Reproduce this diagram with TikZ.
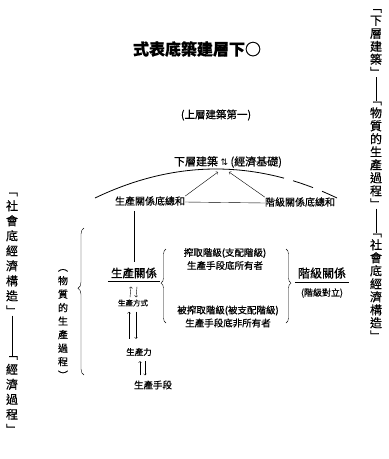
\documentclass[tikz,border=0pt]{standalone}
\usepackage{fontspec}
\newfontfamily\cjk[FakeBold=0.6]{Noto Sans CJK TC}
\newfontfamily\symfont{DejaVu Sans}
\usetikzlibrary{positioning,decorations.pathreplacing}

\begin{document}
\begin{tikzpicture}[x=1pt,y=-1pt,
  declare function={archy(\x)=198-116*((\x-95)/242)*(1-(\x-95)/242);}]
\tikzstyle{word}=[inner sep=0pt,font=\cjk\fontsize{10}{12}\selectfont]
\tikzstyle{lines}=[inner sep=0pt,align=center,font=\cjk\fontsize{9.5}{13}\selectfont]
\tikzstyle{vcol}=[inner sep=0pt,align=center,font=\cjk\fontsize{12}{13}\selectfont]
\tikzstyle{bracefig}=[decorate,decoration={brace,amplitude=5pt}]

\useasboundingbox (0,0) rectangle (389,459);

\begin{scope}
    % Headings
    \node [word,font=\cjk\bfseries\fontsize{16}{18}\selectfont](title) at (197,49){式表底築建層下○};
    \node [word,font=\cjk\fontsize{10.5}{12}\selectfont](upper) at (216,115){(上層建築第一)};
    \node [word,font=\cjk\fontsize{11}{12}\selectfont](base) at (228,162){下層建築 {\symfont\fontsize{9}{10}\selectfont ⇅} (經濟基礎)};

    % Sums of relations
    \node [word](relL) at (150,201){生產關係底總和};
    \node [word](relR) at (300,202){階級關係底總和};

    % Production column
    \node [word,font=\cjk\fontsize{11.5}{12}\selectfont](prodRel) at (134,273){生產關係};
    \node [word,font=\cjk\fontsize{7.5}{9}\selectfont](mode) at (133,303){生產方式};
    \node [word,font=\cjk\fontsize{8.5}{10}\selectfont](force) at (139,352){生產力};
    \node [word,font=\cjk\fontsize{9.5}{11}\selectfont](means) at (153,385){生產手段};

    % Classes
    \node [lines](exA) at (225,259){搾取階級(支配階級)\\生產手段底所有者};
    \node [lines](exB) at (228,316.5){被搾取階級(被支配階級)\\生產手段底非所有者};
    \node [word,font=\cjk\fontsize{12}{13}\selectfont](classRel) at (322,273){階級關係};
    \node [word,font=\cjk\fontsize{9}{10}\selectfont](classOpp) at (322,293){(階級對立)};

    % Vertical captions
    \node [vcol,font=\cjk\fontsize{10}{13.5}\selectfont](matProc) at (63,324){︵\\物\\質\\的\\生\\產\\過\\程\\︶};
    \node [vcol,font=\cjk\fontsize{12}{15}\selectfont](lA) at (12,254){﹁\\社\\會\\底\\經\\濟\\構\\造\\﹂};
    \node [vcol,font=\cjk\fontsize{12}{15}\selectfont](lB) at (12,395){﹁\\經\\濟\\過\\程\\﹂};
    \node [vcol](rA) at (376,43){﹁\\下\\層\\建\\築\\﹂};
    \node [vcol](rB) at (376,155){﹁\\物\\質\\的\\生\\產\\過\\程\\﹂};
    \node [vcol](rC) at (376,287){﹁\\社\\會\\底\\經\\濟\\構\\造\\﹂};

    %the arch under the base
    \draw [thick,domain=95:284,samples=40] plot (\x,{archy(\x)});
    \draw [thick,domain=293:313,samples=10] plot (\x,{archy(\x)});
    \draw [thick,domain=322:337,samples=10] plot (\x,{archy(\x)});
    \coordinate (tipL) at (218,172);
    \coordinate (tipR) at (229,172);
    \draw [->] (relL.north east) -- (tipL);
    \draw [->] (relR.north west) -- (tipR);
    \draw ([yshift=-1pt]relL.east) -- ([yshift=-1pt]relR.west);

    %down to the relations of production
    \draw ([yshift=-5pt]relL.south -| prodRel.north) -- ([yshift=5pt]prodRel.north);
    \draw ([xshift=-3pt,yshift=-3pt]prodRel.south west) -- ([xshift=3pt,yshift=-3pt]prodRel.south east);
    \path [->] ([xshift=-3pt,yshift=2pt]mode.north) edge ([xshift=-3pt,yshift=-8pt]prodRel.south);
    \path [->] ([xshift=3pt,yshift=-8pt]prodRel.south) edge ([xshift=3pt,yshift=2pt]mode.north);
    \draw [<-] ([xshift=-4pt,yshift=-5pt]mode.south) -- ([xshift=-4pt,yshift=9pt]mode.south |- force.north);
    \draw [->] ([xshift=3pt,yshift=-5pt]mode.south) -- ([xshift=3pt,yshift=9pt]mode.south |- force.north);
    \path [->] ([xshift=1pt,yshift=5pt]means.north -| force.south) edge ([xshift=1pt,yshift=-5pt]force.south);
    \path [->] ([xshift=6pt,yshift=-5pt]force.south) edge ([xshift=6pt,yshift=5pt]means.north -| force.south);

    %class relations
    \draw ([xshift=-3pt,yshift=-3pt]classRel.south west) -- ([xshift=3pt,yshift=-3pt]classRel.south east);
    \draw [bracefig,decoration={aspect=0.54}] (166,323) -- (166,249);
    \draw [bracefig,decoration={aspect=0.46}] (286,249) -- (286,323);
    \draw [bracefig,decoration={amplitude=6pt,aspect=0.59}] (84,375) -- (84,228);

    %dashes between the captions
    \draw (lA.south) -- (lB.north);
    \draw (rA.south) -- (rB.north);
    \draw (rB.south) -- (rC.north);
\end{scope}

\end{tikzpicture}
\end{document}
